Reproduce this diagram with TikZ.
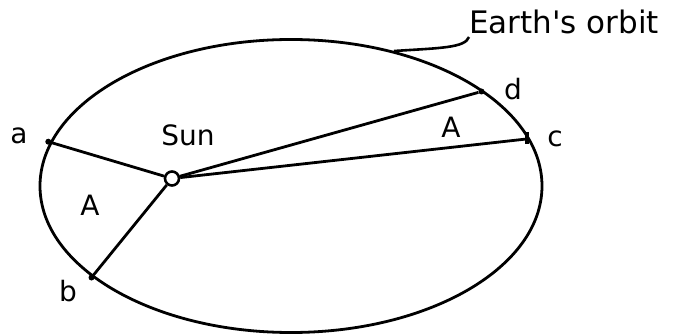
\documentclass[tikz,border=0pt]{standalone}
\usepackage{fontspec}
\setmainfont{DejaVu Sans}
\newfontfamily\plainsans{DejaVu Sans}
\begin{document}
\begin{tikzpicture}[x=1pt,y=-1pt,
  orbitline/.style={line width=2.8pt},
  ray/.style={line width=2.8pt},
  lbl/.style={font=\fontsize{28}{30}\selectfont, inner sep=0pt},
  pt/.style={circle, fill=black, inner sep=0pt, minimum size=6pt}]
\useasboundingbox (0,0) rectangle (678,334);
% orbit
\draw[orbitline] (291,186) ellipse [x radius=251, y radius=146.5];
% sun
\node[circle, draw, line width=2.6pt, minimum width=12pt, minimum height=14pt, inner sep=0pt] (sun) at (172,178.5) {};
% points on the orbit
\node[pt] (a) at (48.3,141.7) {};
\node[pt] (b) at (91.5,277.5) {};
\node[pt] (d) at (481.5,91.5) {};
\coordinate (c) at (526.5,139);
\coordinate (ctop) at (527,132);
\coordinate (cbot) at (527,144);
\draw[line width=3.4pt] (ctop) -- (cbot);
% rays
\draw[ray] (sun) -- (a);
\draw[ray] (sun) -- (b);
\draw[ray] (sun) -- (c);
\draw[ray] (sun) -- (d);
% labels
\node[lbl] (la) at (19,136) {a};
\node[lbl] (lb) at (68,291) {b};
\node[lbl] (lc) at (555,139) {c};
\node[lbl] (ld) at (513,89) {d};
\node[lbl] (lsun) at (188,135) {Sun};
\node[lbl] (A1) at (90,205) {A};
\node[lbl] (A2) at (451,127) {A};
\node[font=\plainsans\fontsize{31}{33}\selectfont, inner sep=0pt, anchor=west] (earth) at (469,22) {Earth's orbit};
\coordinate (lead) at (394,51);
\coordinate (leadend) at (469,37);
\draw[line width=2.6pt] (lead) .. controls (440,48) and (465,48) .. (leadend);
\end{tikzpicture}
\end{document}
